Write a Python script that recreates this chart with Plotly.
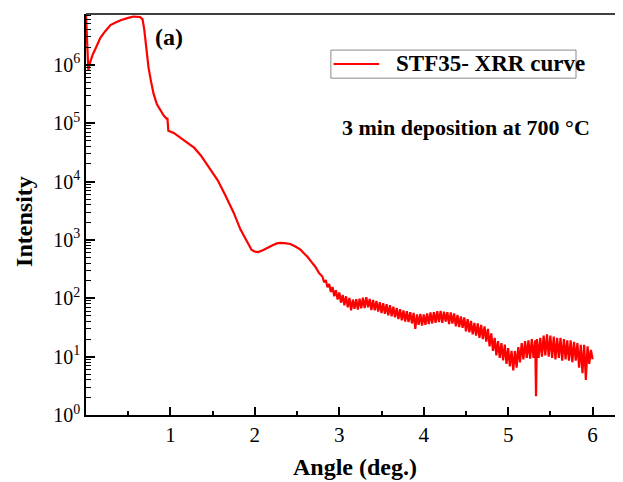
import plotly.graph_objects as go

# ---- data ----
angle_smooth = [0.000, 0.010, 0.020, 0.028, 0.040, 0.076, 0.12, 0.17, 0.23, 0.29, 0.35, 0.41,
                0.49, 0.56, 0.64, 0.67, 0.69, 0.70, 0.72, 0.74, 0.77, 0.80, 0.84, 0.88, 0.92,
                0.955, 0.965, 0.975, 1.04, 1.10, 1.20, 1.28, 1.36, 1.46, 1.56, 1.65, 1.75,
                1.83, 1.91, 1.96, 2.00, 2.04, 2.10, 2.15, 2.21, 2.26, 2.30, 2.35, 2.42, 2.48,
                2.54, 2.58, 2.62, 2.67, 2.72, 2.76]
intensity_smooth = [7.2e6, 3.5e6, 1.3e6, 8.0e5, 1.0e6, 1.45e6, 2.0e6, 2.9e6, 3.8e6, 4.8e6, 5.3e6,
                    5.8e6, 6.3e6, 6.7e6, 6.6e6, 6.0e6, 4.0e6, 3.0e6, 1.6e6, 9.1e5, 5.2e5, 3.2e5,
                    2.1e5, 1.66e5, 1.35e5, 1.2e5, 1.2e5, 7.4e4, 6.8e4, 5.9e4, 4.6e4, 3.8e4,
                    2.8e4, 1.7e4, 1.05e4, 5.8e3, 2.9e3, 1.5e3, 910, 680, 630, 620, 670, 740,
                    810, 870, 890, 880, 850, 770, 680, 590, 520, 420, 340, 270]

angle_noisy = [
    2.80, 2.82, 2.84, 2.86, 2.88, 2.90, 2.92, 2.94, 2.96, 2.98,
    3.00, 3.02, 3.04, 3.06, 3.08, 3.10, 3.12, 3.14, 3.16, 3.18,
    3.20, 3.22, 3.24, 3.26, 3.28, 3.30, 3.32, 3.34, 3.36, 3.38,
    3.40, 3.42, 3.44, 3.46, 3.48, 3.50, 3.52, 3.54, 3.56, 3.58,
    3.60, 3.62, 3.64, 3.66, 3.68, 3.70, 3.72, 3.74, 3.76, 3.78,
    3.80, 3.82, 3.84, 3.86, 3.88, 3.90, 3.92, 3.94, 3.96, 3.98,
    4.00, 4.02, 4.04, 4.06, 4.08, 4.10, 4.12, 4.14, 4.16, 4.18,
    4.20, 4.22, 4.24, 4.26, 4.28, 4.30, 4.32, 4.34, 4.36, 4.38,
    4.40, 4.42, 4.44, 4.46, 4.48, 4.50, 4.52, 4.54, 4.56, 4.58,
    4.60, 4.62, 4.64, 4.66, 4.68, 4.70, 4.72, 4.74, 4.76, 4.78,
    4.80, 4.82, 4.84, 4.86, 4.88, 4.90, 4.92, 4.94, 4.96, 4.98,
    5.00, 5.02, 5.04, 5.06, 5.08, 5.10, 5.12, 5.14, 5.16, 5.18,
    5.20, 5.22, 5.24, 5.26, 5.28, 5.30, 5.32, 5.33, 5.34, 5.36, 5.38,
    5.40, 5.42, 5.44, 5.46, 5.48, 5.50, 5.52, 5.54, 5.56, 5.58,
    5.60, 5.62, 5.64, 5.66, 5.68, 5.70, 5.72, 5.74, 5.76, 5.78,
    5.80, 5.82, 5.84, 5.86, 5.88, 5.90, 5.92, 5.94, 5.96, 5.98,
    6.00]
intensity_noisy = [
    236, 188, 205, 155, 176, 128, 156, 108, 137, 95,
    126, 84, 114, 76, 108, 70, 101, 62, 95, 66,
    96, 64, 98, 67, 102, 68, 104, 70, 97, 63,
    94, 62, 90, 59, 86, 56, 82, 54, 79, 51,
    76, 49, 72, 47, 68, 44, 65, 42, 62, 40,
    60, 39, 58, 37, 56, 30, 53, 35, 54, 34,
    53, 35, 55, 36, 57, 37, 58, 38, 60, 39,
    61, 38, 59, 40, 58, 36, 57, 37, 55, 33,
    52, 32, 49, 31, 47, 27, 44, 26, 41, 24,
    38, 23, 37, 21, 35, 20, 33, 18, 30, 15,
    25, 12.5, 21, 10.5, 18.5, 9.5, 17, 8.6, 16, 7.5,
    14, 6.8, 12.5, 5.8, 12.5, 6.5, 14.5, 8.0, 17, 9,
    18.5, 9.5, 19, 9.2, 20, 9.5, 19, 2.1, 20, 9.5, 21,
    10, 23, 10.5, 24, 10, 23, 9.5, 22, 9, 21,
    9.5, 21, 8.5, 20, 9, 19, 8.5, 19, 8, 18,
    8.5, 17, 6.5, 16, 5.2, 16, 4.0, 15, 7.5, 13,
    9]

y_tick_vals = [1, 10, 100, 1000, 1e4, 1e5, 1e6]
y_tick_text = ["10<sup>0</sup>", "10<sup>1</sup>", "10<sup>2</sup>", "10<sup>3</sup>",
               "10<sup>4</sup>", "10<sup>5</sup>", "10<sup>6</sup>"]
x_tick_vals = [1, 2, 3, 4, 5, 6]
x_tick_text = ["1", "2", "3", "4", "5", "6"]
series_name = "STF35- XRR curve"

angle = angle_smooth + angle_noisy
intensity = intensity_smooth + intensity_noisy

FONT = "Liberation Serif"
RED = "#ff0000"

y_minor = [m * 10 ** e for e in range(0, 7) for m in range(2, 10) if m * 10 ** e < 7.4e6]
x_minor = [0.5, 1.5, 2.5, 3.5, 4.5, 5.5]

fig = go.Figure()
fig.add_trace(go.Scatter(x=angle, y=intensity, mode="lines", name=series_name,
                         showlegend=False, line=dict(color=RED, width=2.2)))

# The page body has an 8px margin, so the figure is 8px smaller than the window.
fig.update_layout(
    width=615, height=474,
    margin=dict(l=78, r=0, t=6, b=67),
    paper_bgcolor="white", plot_bgcolor="white",
    font=dict(family=FONT, color="black", size=20),
    showlegend=False,
)

fig.update_xaxes(
    range=[0, 6.36], showgrid=False, zeroline=False,
    showline=True, linecolor="black", linewidth=1.5,
    ticks="inside", ticklen=8, tickwidth=1.5, tickcolor="black",
    tickvals=x_tick_vals, ticktext=x_tick_text,
    tickfont=dict(family=FONT, size=21, color="black"),
    minor=dict(tickvals=x_minor, ticks="inside", ticklen=4, tickwidth=1.5, tickcolor="black"),
)
fig.update_yaxes(
    type="log", range=[0, 6.87], showgrid=False, zeroline=False,
    showline=True, linecolor="black", linewidth=1.5,
    ticks="inside", ticklen=9, tickwidth=1.5, tickcolor="black",
    tickvals=y_tick_vals, ticktext=y_tick_text,
    tickfont=dict(family=FONT, size=20, color="black"),
    minor=dict(tickvals=y_minor, ticks="inside", ticklen=5, tickwidth=1.2, tickcolor="black"),
)

# top frame line (right frame is cropped off in the reference)
fig.add_shape(type="line", xref="paper", yref="paper", x0=0, x1=1, y0=1, y1=1,
              line=dict(color="black", width=1.5))

# legend box
fig.add_shape(type="rect", xref="paper", yref="paper", x0=0.456, x1=0.9125, y0=0.840, y1=0.910,
              line=dict(color="#8a8a8a", width=1), fillcolor="white")
fig.add_shape(type="line", xref="paper", yref="paper", x0=0.461, x1=0.546, y0=0.8755, y1=0.8755,
              line=dict(color=RED, width=2))
fig.add_annotation(text=series_name, xref="paper", yref="paper", x=0.5735, y=0.8755,
                   xanchor="left", yanchor="middle", showarrow=False,
                   font=dict(family=FONT, size=23, weight="bold", color="black"))

fig.add_annotation(text="Angle (deg.)", xref="paper", yref="paper", x=0.5, y=-0.13,
                   xanchor="center", yanchor="middle", showarrow=False,
                   font=dict(family=FONT, size=24, weight="bold", color="black"))
fig.add_annotation(text="Intensity", xref="paper", yref="paper", x=-0.1155, y=0.484,
                   xanchor="center", yanchor="middle", textangle=-90, showarrow=False,
                   font=dict(family=FONT, size=24, weight="bold", color="black"))
fig.add_annotation(text="(a)", xref="paper", yref="paper", x=0.155, y=0.943,
                   xanchor="center", yanchor="middle", showarrow=False,
                   font=dict(family=FONT, size=24, weight="bold", color="black"))
fig.add_annotation(text="3 min deposition at 700 °C", xref="paper", yref="paper",
                   x=0.707, y=0.716, xanchor="center", yanchor="middle", showarrow=False,
                   font=dict(family=FONT, size=22, weight="bold", color="black"))

fig.write_html("out.html")
